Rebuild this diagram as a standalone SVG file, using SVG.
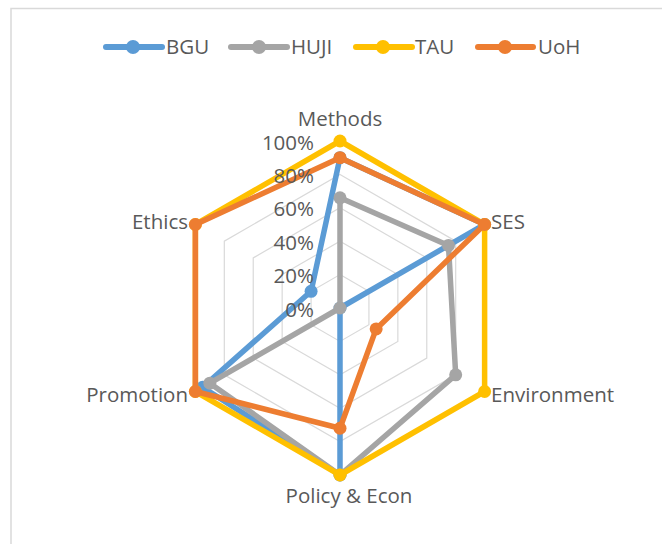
<svg xmlns="http://www.w3.org/2000/svg" width="662" height="544" viewBox="0 0 662 544">
<style>
text{font-family:"Open Sans","Liberation Sans",sans-serif;font-size:20.5px;fill:#595959}
.grid{fill:none;stroke:#D9D9D9;stroke-width:1.2}
.s{fill:none;stroke-width:5.5;stroke-linejoin:round;stroke-linecap:round}
.val{text-anchor:end}
</style>
<rect x="11" y="8.5" width="700" height="600" fill="#FFFFFF" stroke="#D9D9D9" stroke-width="1.5"/>
<g id="gridlines">
<polygon class="grid" points="340,274.6 368.92,291.3 368.92,324.7 340,341.4 311.08,324.7 311.08,291.3"/>
<polygon class="grid" points="340,241.2 397.85,274.6 397.85,341.4 340,374.8 282.15,341.4 282.15,274.6"/>
<polygon class="grid" points="340,207.8 426.77,257.9 426.77,358.1 340,408.2 253.23,358.1 253.23,257.9"/>
<polygon class="grid" points="340,174.4 455.7,241.2 455.7,374.8 340,441.6 224.3,374.8 224.3,241.2"/>
<polygon class="grid" points="340,141 484.62,224.5 484.62,391.5 340,475 195.38,391.5 195.38,224.5"/>
</g>
<g id="connectors">
<g id="series-BGU" fill="#5B9BD5">
<polygon class="s" stroke="#5B9BD5" points="340,157.7 484.62,224.5 340,308 340,475 202.6,387.3 311.08,291.3"/>
<circle cx="340" cy="157.7" r="6.5"/><circle cx="484.62" cy="224.5" r="6.5"/><circle cx="340" cy="308" r="6.5"/><circle cx="340" cy="475" r="6.5"/><circle cx="202.6" cy="387.3" r="6.5"/><circle cx="311.08" cy="291.3" r="6.5"/>
</g>
<g id="series-HUJI" fill="#A5A5A5">
<polygon class="s" stroke="#A5A5A5" points="340,197.8 448.47,245.4 455.7,374.8 340,475 209.84,383.15 340,308"/>
<circle cx="340" cy="197.8" r="6.5"/><circle cx="448.47" cy="245.4" r="6.5"/><circle cx="455.7" cy="374.8" r="6.5"/><circle cx="340" cy="475" r="6.5"/><circle cx="209.84" cy="383.15" r="6.5"/><circle cx="340" cy="308" r="6.5"/>
</g>
<g id="series-TAU" fill="#FFC000">
<polygon class="s" stroke="#FFC000" points="340,141 484.62,224.5 484.62,391.5 340,475 195.38,391.5 195.38,224.5"/>
<circle cx="340" cy="141" r="6.5"/><circle cx="484.62" cy="224.5" r="6.5"/><circle cx="484.62" cy="391.5" r="6.5"/><circle cx="340" cy="475" r="6.5"/><circle cx="195.38" cy="391.5" r="6.5"/><circle cx="195.38" cy="224.5" r="6.5"/>
</g>
<g id="series-UoH" fill="#ED7D31">
<polygon class="s" stroke="#ED7D31" points="340,157.7 484.62,224.5 376.16,328.9 340,428.24 195.38,391.5 195.38,224.5"/>
<circle cx="340" cy="157.7" r="6.5"/><circle cx="484.62" cy="224.5" r="6.5"/><circle cx="376.16" cy="328.9" r="6.5"/><circle cx="340" cy="428.24" r="6.5"/><circle cx="195.38" cy="391.5" r="6.5"/><circle cx="195.38" cy="224.5" r="6.5"/>
</g>
</g>
<g id="axis-values">
<text class="val" x="314" y="316.5">0%</text>
<text class="val" x="314" y="283.1">20%</text>
<text class="val" x="314" y="249.7">40%</text>
<text class="val" x="314" y="216.3">60%</text>
<text class="val" x="314" y="182.9">80%</text>
<text class="val" x="314" y="149.5">100%</text>
</g>
<g id="node-methods"><text x="340" y="126" text-anchor="middle">Methods</text></g>
<g id="node-ses"><text x="491" y="229">SES</text></g>
<g id="node-environment"><text x="491" y="402">Environment</text></g>
<g id="node-policy"><text x="349" y="503" text-anchor="middle">Policy &amp; Econ</text></g>
<g id="node-promotion"><text x="188" y="402" text-anchor="end">Promotion</text></g>
<g id="node-ethics"><text x="188" y="229" text-anchor="end">Ethics</text></g>
<g id="legend">
<g id="legend-BGU"><path d="M106,47H162" stroke="#5B9BD5" stroke-width="6" stroke-linecap="round"/><circle cx="133" cy="47" r="7" fill="#5B9BD5"/><text x="166" y="54">BGU</text></g>
<g id="legend-HUJI"><path d="M231,47H287" stroke="#A5A5A5" stroke-width="6" stroke-linecap="round"/><circle cx="259" cy="47" r="7" fill="#A5A5A5"/><text x="291" y="54">HUJI</text></g>
<g id="legend-TAU"><path d="M356,47H412" stroke="#FFC000" stroke-width="6" stroke-linecap="round"/><circle cx="383" cy="47" r="7" fill="#FFC000"/><text x="415" y="54">TAU</text></g>
<g id="legend-UoH"><path d="M478,47H533" stroke="#ED7D31" stroke-width="6" stroke-linecap="round"/><circle cx="505" cy="47" r="7" fill="#ED7D31"/><text x="538" y="54">UoH</text></g>
</g>
</svg>
